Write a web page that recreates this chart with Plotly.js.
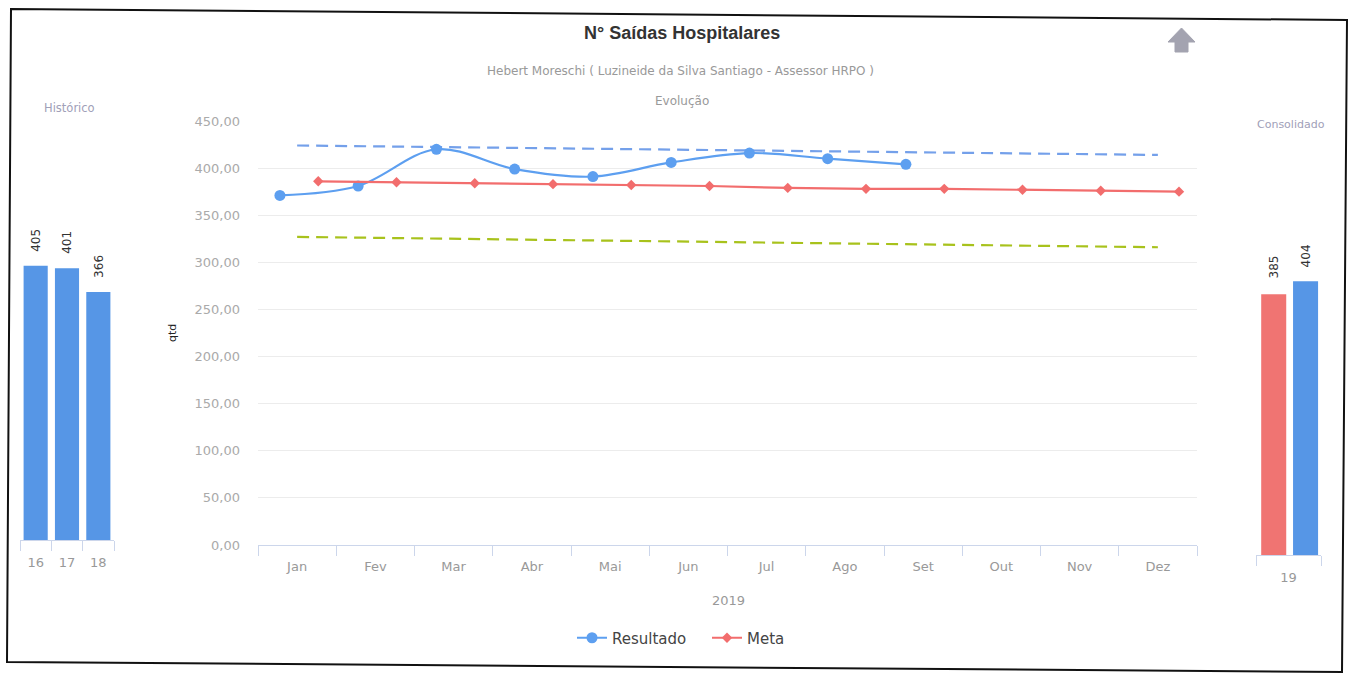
<!DOCTYPE html>
<html>
<head>
<meta charset="utf-8">
<script src="https://cdn.plot.ly/plotly-3.0.1.min.js"></script>
<style>html,body{margin:0;padding:0;background:#fff;}#chart{width:1349px;height:682px;}</style>
</head>
<body>
<div id="chart"></div>
<script>
// ---- data ----
const meses = ['Jan','Fev','Mar','Abr','Mai','Jun','Jul','Ago','Set','Out','Nov','Dez'];
const resultado = [371, 381, 420, 399, 391, 406, 416, 410, 404];
const meta = [386, 385, 384, 383, 382, 381, 379, 378, 378, 377, 376, 375];
const faixaSuperior = [424, 414];   // Jan -> Dez
const faixaInferior = [327, 316];   // Jan -> Dez
const histAnos = ['16','17','18'];
const histValores = [405, 401, 366];
const consAno = ['19'];
const consMeta = [385];
const consResultado = [404];

// ---- helpers (page pixels -> paper) ----
const W = 1349, H = 682;
const px = x => x / W;
const py = y => 1 - y / H;

const idx = meses.map((_, i) => i);
const bounds = meses.map((_, i) => i - 0.5).concat([meses.length - 0.5]);
const BLUE = '#5d9ff0';
const RED = '#f26d6d';
const BARBLUE = '#5696e6';
const BARRED = '#f07472';

const traces = [
  {
    type: 'scatter', mode: 'lines', name: 'sup',
    x: [0, meses.length - 1], y: faixaSuperior,
    line: {color: '#74a0ea', width: 2.2, dash: '12px,7px'},
    showlegend: false, hoverinfo: 'skip', xaxis: 'x', yaxis: 'y'
  },
  {
    type: 'scatter', mode: 'lines', name: 'inf',
    x: [0, meses.length - 1], y: faixaInferior,
    line: {color: '#a8c21c', width: 2.2, dash: '12px,7px'},
    showlegend: false, hoverinfo: 'skip', xaxis: 'x', yaxis: 'y'
  },
  {
    type: 'scatter', mode: 'lines+markers', name: 'Resultado',
    x: resultado.map((_, i) => i - 0.22), y: resultado,
    line: {color: BLUE, width: 2.2, shape: 'spline', smoothing: 1},
    marker: {color: BLUE, size: 11, symbol: 'circle'},
    xaxis: 'x', yaxis: 'y'
  },
  {
    type: 'scatter', mode: 'lines+markers', name: 'Meta',
    x: meta.map((_, i) => i + 0.27), y: meta,
    line: {color: RED, width: 2.2},
    marker: {color: RED, size: 8, symbol: 'diamond'},
    xaxis: 'x', yaxis: 'y'
  },
  {
    type: 'bar', name: 'Histórico',
    x: histAnos.map((_, i) => i), y: histValores,
    width: 0.77, marker: {color: BARBLUE},
    showlegend: false, xaxis: 'x2', yaxis: 'y2'
  },
  {
    type: 'bar', name: 'Meta cons',
    x: consAno.map((_, i) => i), y: consMeta,
    width: 0.385, offset: -0.42, marker: {color: BARRED},
    showlegend: false, xaxis: 'x3', yaxis: 'y3'
  },
  {
    type: 'bar', name: 'Resultado cons',
    x: consAno.map((_, i) => i), y: consResultado,
    width: 0.385, offset: 0.07, marker: {color: BARBLUE},
    showlegend: false, xaxis: 'x3', yaxis: 'y3'
  }
];

// value labels above bars (rotated), positioned through the bar axes
const labelFont = {family: 'DejaVu Sans', size: 12, color: '#333'};
const barLabels = [];
histValores.forEach((v, i) => barLabels.push({
  text: String(v), x: i, y: v, xref: 'x2', yref: 'y2', showarrow: false, textangle: -90,
  xanchor: 'center', yanchor: 'bottom', yshift: 12, font: labelFont
}));
consMeta.forEach((v, i) => barLabels.push({
  text: String(v), x: i - 0.42 + 0.385 / 2, y: v, xref: 'x3', yref: 'y3', showarrow: false, textangle: -90,
  xanchor: 'center', yanchor: 'bottom', yshift: 14, font: labelFont
}));
consResultado.forEach((v, i) => barLabels.push({
  text: String(v), x: i + 0.07 + 0.385 / 2, y: v, xref: 'x3', yref: 'y3', showarrow: false, textangle: -90,
  xanchor: 'center', yanchor: 'bottom', yshift: 12, font: labelFont
}));

const axisLine = '#ccd6eb';
const layout = {
  width: W, height: H,
  margin: {l: 0, r: 0, t: 0, b: 0, pad: 0},
  paper_bgcolor: '#ffffff', plot_bgcolor: 'rgba(0,0,0,0)',
  separators: ',.',
  font: {family: 'DejaVu Sans', color: '#999'},
  barmode: 'overlay',
  xaxis: {
    domain: [px(258), px(1197)], range: [-0.5, meses.length - 0.5],
    tickmode: 'array', tickvals: idx, ticktext: meses, ticks: '',
    showgrid: false, zeroline: false, showline: true, linecolor: axisLine, linewidth: 1,
    minor: {tickmode: 'array', tickvals: bounds, ticks: 'outside', ticklen: 10, tickcolor: axisLine, showgrid: false},
    tickfont: {size: 13, color: '#999'}, ticklabelstandoff: 9, anchor: 'y', fixedrange: true
  },
  yaxis: {
    domain: [py(545), py(121)], range: [0, 450], dtick: 50, tick0: 0, tickformat: '.2f',
    showgrid: true, gridcolor: '#ececec', gridwidth: 1, zeroline: false, showline: false,
    ticks: '', tickfont: {size: 13, color: '#aaa'}, ticklabelstandoff: 17, anchor: 'x', fixedrange: true
  },
  xaxis2: {
    domain: [px(20), px(114)], range: [-0.5, histAnos.length - 0.5],
    tickmode: 'array', tickvals: histAnos.map((_, i) => i), ticktext: histAnos, ticks: '',
    showgrid: false, zeroline: false, showline: true, linecolor: axisLine,
    minor: {tickmode: 'array', tickvals: histAnos.map((_, i) => i - 0.5).concat([histAnos.length - 0.5]), ticks: 'outside', ticklen: 10, tickcolor: axisLine, showgrid: false},
    tickfont: {size: 13, color: '#999'}, ticklabelstandoff: 10, anchor: 'y2'
  },
  yaxis2: {domain: [py(540), py(120)], range: [0, 620], visible: false, anchor: 'x2'},
  xaxis3: {
    domain: [px(1256), px(1321)], range: [-0.5, consAno.length - 0.5],
    tickmode: 'array', tickvals: consAno.map((_, i) => i), ticktext: consAno, ticks: '',
    showgrid: false, zeroline: false, showline: true, linecolor: axisLine,
    minor: {tickmode: 'array', tickvals: [-0.5, consAno.length - 0.5], ticks: 'outside', ticklen: 10, tickcolor: axisLine, showgrid: false},
    tickfont: {size: 13, color: '#999'}, ticklabelstandoff: 10, anchor: 'y3'
  },
  yaxis3: {domain: [py(555), py(135)], range: [0, 620], visible: false, anchor: 'x3'},
  showlegend: true,
  legend: {
    orientation: 'h', x: px(572), xanchor: 'left', y: py(638), yanchor: 'middle',
    font: {family: 'DejaVu Sans', size: 15, color: '#444'}, bgcolor: 'rgba(0,0,0,0)',
    entrywidth: 90, itemwidth: 30
  },
  annotations: [
    {text: '<b>N° Saídas Hospitalares</b>', x: px(682), y: py(33), xref: 'paper', yref: 'paper', showarrow: false,
     font: {family: 'Liberation Sans', size: 18, color: '#333'}, xanchor: 'center', yanchor: 'middle'},
    {text: 'Hebert Moreschi ( Luzineide da Silva Santiago - Assessor HRPO )', x: px(680), y: py(71), xref: 'paper', yref: 'paper', showarrow: false,
     font: {family: 'DejaVu Sans', size: 12, color: '#999'}, xanchor: 'center', yanchor: 'middle'},
    {text: 'Evolução', x: px(682), y: py(101), xref: 'paper', yref: 'paper', showarrow: false,
     font: {family: 'DejaVu Sans', size: 12, color: '#999'}, xanchor: 'center', yanchor: 'middle'},
    {text: 'Histórico', x: px(69), y: py(108), xref: 'paper', yref: 'paper', showarrow: false,
     font: {family: 'DejaVu Sans', size: 11.5, color: '#a0a0b8'}, xanchor: 'center', yanchor: 'middle'},
    {text: 'Consolidado', x: px(1291), y: py(124), xref: 'paper', yref: 'paper', showarrow: false,
     font: {family: 'DejaVu Sans', size: 11, color: '#a0a0b8'}, xanchor: 'center', yanchor: 'middle'},
    {text: 'qtd', x: px(172), y: py(333), xref: 'paper', yref: 'paper', showarrow: false, textangle: -90,
     font: {family: 'DejaVu Sans', size: 11, color: '#222'}, xanchor: 'center', yanchor: 'middle'},
    {text: '2019', x: px(728), y: py(600), xref: 'paper', yref: 'paper', showarrow: false,
     font: {family: 'DejaVu Sans', size: 13, color: '#999'}, xanchor: 'center', yanchor: 'middle'}
  ].concat(barLabels),
  shapes: [
    {type: 'path', xref: 'paper', yref: 'paper',
     path: 'M ' + px(11) + ' ' + py(9) + ' L ' + px(1347) + ' ' + py(20) + ' L ' + px(1342) + ' ' + py(672) + ' L ' + px(7) + ' ' + py(662) + ' Z',
     line: {color: '#111', width: 2}, fillcolor: 'rgba(0,0,0,0)'},
    // export (up arrow) icon
    {type: 'path', xref: 'paper', yref: 'paper',
     path: 'M ' + px(1168) + ' ' + py(42) + ' L ' + px(1181.5) + ' ' + py(28) + ' L ' + px(1195) + ' ' + py(42) +
           ' L ' + px(1188) + ' ' + py(42) + ' L ' + px(1188) + ' ' + py(52) + ' L ' + px(1175) + ' ' + py(52) +
           ' L ' + px(1175) + ' ' + py(42) + ' Z',
     line: {color: '#a3a3b0', width: 1}, fillcolor: '#a3a3b0'}
  ]
};

Plotly.newPlot('chart', traces, layout, {displayModeBar: false, staticPlot: true});
</script>
</body>
</html>
